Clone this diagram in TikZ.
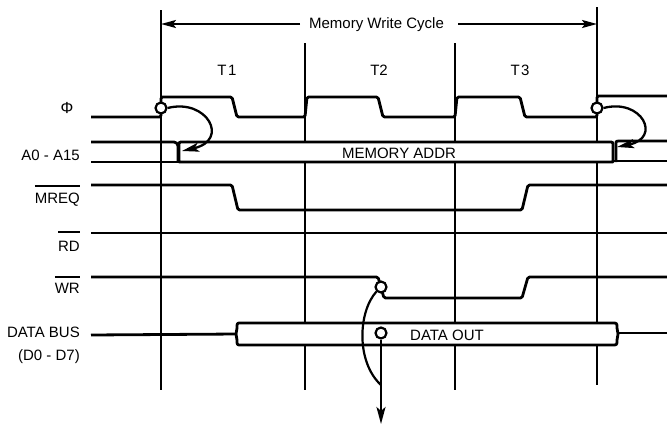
\documentclass[tikz,border=0pt]{standalone}
\usepackage{fontspec}
\setmainfont{Liberation Sans}
\usetikzlibrary{arrows.meta}
\newcommand\barred[2]{\vbox{\hrule height 2pt\kern #2\hbox{#1}}}
\begin{document}
\begin{tikzpicture}[x=1pt,y=-1pt,
  sig/.style={line width=2.8pt, rounded corners=1.5pt, line join=round},
  gridline/.style={line width=2.4pt},
  bus/.style={line width=2.8pt, fill=white, line join=round},
  ring/.style={circle, draw, line width=2.2pt, fill=white, minimum size=11pt, inner sep=0pt},
  lbl/.style={anchor=base east, inner sep=0pt, font=\fontsize{15}{18}\selectfont},
  txt/.style={anchor=base, inner sep=0pt, font=\fontsize{15}{18}\selectfont},
  dim/.style={line width=2pt, -{Stealth[length=15pt,width=8pt,inset=3pt]}},
  cause/.style={line width=2.3pt, -{Stealth[length=17pt,width=9pt,inset=4pt]}}
]
\useasboundingbox (0,0) rectangle (667,429);

% vertical time markers
\coordinate (v1t) at (161,10);  \coordinate (v1b) at (161,390);
\coordinate (v2t) at (305,43);  \coordinate (v2b) at (305,390);
\coordinate (v3t) at (455,43);  \coordinate (v3b) at (455,390);
\coordinate (v4t) at (597,7);   \coordinate (v4b) at (597,385);
\draw[gridline] (v1t) -- (v1b);
\draw[gridline] (v2t) -- (v2b);
\draw[gridline] (v3t) -- (v3b);
\draw[gridline] (v4t) -- (v4b);

% top dimension
\node[txt] (mwc) at (376.5,28) {Memory Write Cycle};
\coordinate (la) at (300,24);
\coordinate (ra) at (458,24);
\draw[dim] (la) -- (la -| v1t);
\draw[dim] (ra) -- (ra -| v4t);

\node[txt] (t1l) at (227,75) {T\kern1.5pt1};
\node[txt] (t2l) at (379,75) {T2};
\node[txt] (t3l) at (520,75) {T\kern1.5pt3};

% clock
\draw[sig] (91,117) -- (161,117) -- (161,97) -- (232,97) -- (237,117) -- (305,117)
  -- (307,97) -- (378,97) -- (383,117) -- (455,117) -- (457,97) -- (520,97)
  -- (525,117) -- (597,117) -- (597,96) -- (667,96);

% address bus
\draw[sig, rounded corners=4pt] (91,142) -- (178,142) -- (178,162);
\draw[sig] (91,162) -- (180,162);
\draw[bus] (179,162) -- (179,146) .. controls (179,142) .. (183,142) -- (609,142)
  .. controls (613,142) .. (613,146) -- (613,162) -- cycle;
\draw[sig] (616,162) -- (616,146) .. controls (616,141) .. (620,141) -- (667,141);
\draw[sig] (612,161) -- (667,161);
\node[txt] (maddr) at (399,158) {MEMORY ADDR};

% MREQ
\draw[sig] (91,185) -- (232,185) -- (238,210) -- (522,210) -- (528,185) -- (667,185);
% RD
\draw[sig] (91,233) -- (667,233);
% WR
\draw[sig] (91,277) -- (378,277) -- (384,298) -- (522,298) -- (528,277) -- (667,277);

% data bus
\draw[sig] (91,335) -- (237,334);
\draw[bus] (241,323) -- (612,323) .. controls (617,323) .. (617,328) -- (618,334)
  -- (617,340) .. controls (617,345) .. (612,345) -- (241,345)
  .. controls (237,345) .. (237,340) -- (236,334) -- (237,328)
  .. controls (237,323) .. (241,323) -- cycle;
\draw[sig] (617,333) -- (667,333);
\node[txt] (dout) at (447,340) {DATA OUT};

% rings
\node[ring] (c1) at (161,108) {};
\node[ring] (c2) at (597,108) {};
\node[ring] (c3) at (381,287) {};
\node[ring] (c4) at (381,333) {};

% causal arrows
\coordinate (a1) at (182,151);
\draw[cause] (c1.east) .. controls (207,98) and (230,140) .. (a1);
\coordinate (a2) at (617,147);
\draw[cause] (c2.east) .. controls (642,98) and (662,138) .. (a2);
\coordinate (dn) at (381,424);
\draw[cause] (c4.south) -- (dn);
\coordinate (mg) at (381,385);
\draw[line width=2.2pt] (c3.south west) .. controls (358,312) and (356,362) .. (mg);

% signal labels
\node[txt, font=\fontsize{16}{18}\selectfont] (phi) at (67,113) {Φ};
\node[lbl] (alab) at (80,160) {A0 - A15};
\node[lbl] (mreq) at (80,203.5) {\barred{MREQ}{6.5pt}};
\node[lbl] (rd) at (80,251) {\barred{RD}{7.5pt}};
\node[lbl] (wr) at (80,293.5) {\barred{WR}{5.5pt}};
\node[lbl] (db) at (80,337.5) {DATA BUS};
\node[lbl] (dd) at (80,360.5) {(D0 - D7)};
\end{tikzpicture}
\end{document}
